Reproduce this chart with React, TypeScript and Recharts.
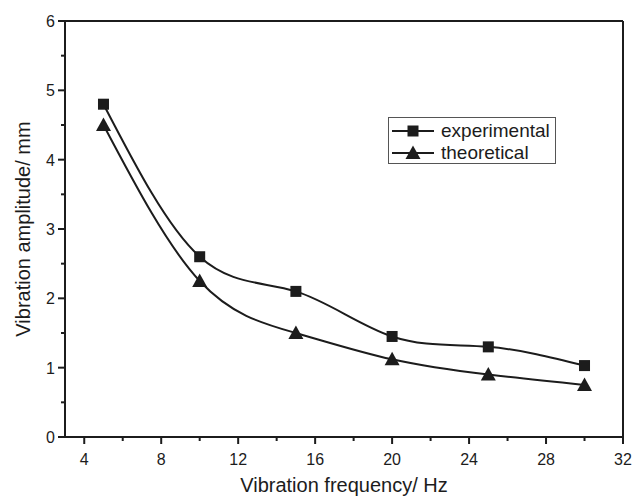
import { LineChart, Line, XAxis, YAxis, Legend, ReferenceLine } from "recharts"

// values
const frequencies = [5, 10, 15, 20, 25, 30]
const experimental = [4.8, 2.6, 2.1, 1.45, 1.3, 1.03]
const theoretical = [4.5, 2.25, 1.5, 1.12, 0.9, 0.75]

const xTicks = [4, 6, 8, 10, 12, 14, 16, 18, 20, 22, 24, 26, 28, 30, 32]
const yTicks = [0, 0.5, 1, 1.5, 2, 2.5, 3, 3.5, 4, 4.5, 5, 5.5, 6]

const INK = "#1c1c1c"
const FONT = "'Liberation Sans', Arial, sans-serif"

const data = frequencies.map((f, i) => ({
  f,
  experimental: experimental[i],
  theoretical: theoretical[i],
}))

function XTick(props: any) {
  const { x, y, payload } = props
  const major = payload.value % 4 === 0
  return (
    <g>
      <line x1={x} x2={x} y1={y} y2={y + (major ? 7 : 4)} stroke={INK} strokeWidth={2} />
      {major && (
        <text x={x} y={y + 28} textAnchor="middle" fontSize={16} fill={INK} fontFamily={FONT}>
          {payload.value}
        </text>
      )}
    </g>
  )
}

function YTick(props: any) {
  const { x, y, payload } = props
  const major = Number.isInteger(payload.value)
  return (
    <g>
      <line x1={x - (major ? 7 : 4)} x2={x} y1={y} y2={y} stroke={INK} strokeWidth={2} />
      {major && (
        <text x={x - 10} y={y + 6} textAnchor="end" fontSize={16} fill={INK} fontFamily={FONT}>
          {payload.value}
        </text>
      )}
    </g>
  )
}

function SquareDot(props: any) {
  const { cx, cy } = props
  if (cx == null || cy == null) return null
  return <rect x={cx - 5.5} y={cy - 5.5} width={11} height={11} fill={INK} />
}

function TriangleDot(props: any) {
  const { cx, cy } = props
  if (cx == null || cy == null) return null
  return <polygon points={`${cx},${cy - 7.5} ${cx - 7.5},${cy + 6} ${cx + 7.5},${cy + 6}`} fill={INK} />
}

function LegendBox() {
  return (
    <svg width={168} height={48} style={{ display: "block" }}>
      <rect x={0.5} y={0.5} width={167} height={46} fill="#fff" stroke="#555" strokeWidth={1} />
      <line x1={4} x2={46} y1={14} y2={14} stroke={INK} strokeWidth={2} />
      <rect x={19.5} y={8.5} width={11} height={11} fill={INK} />
      <text x={53} y={20} fontSize={19} fill={INK} fontFamily={FONT}>experimental</text>
      <line x1={4} x2={46} y1={36} y2={36} stroke={INK} strokeWidth={2} />
      <polygon points="25,28.5 17.5,42 32.5,42" fill={INK} />
      <text x={53} y={42} fontSize={19} fill={INK} fontFamily={FONT}>theoretical</text>
    </svg>
  )
}

export default function App() {
  return (
    <div style={{ position: "fixed", left: 0, top: 0, background: "#fff" }}>
      <LineChart width={634} height={498} data={data} margin={{ top: 21, right: 11, left: 0, bottom: 0 }}>
        <XAxis
          dataKey="f"
          type="number"
          domain={[3, 32]}
          ticks={xTicks}
          interval={0}
          height={61}
          tickSize={0}
          tickMargin={0}
          tickLine={false}
          tick={<XTick />}
          axisLine={{ stroke: INK, strokeWidth: 2 }}
          label={{
            value: "Vibration frequency/ Hz",
            position: "insideBottom",
            offset: 6,
            style: { fontSize: 20, fill: INK, fontFamily: FONT },
          }}
        />
        <YAxis
          type="number"
          domain={[0, 6]}
          ticks={yTicks}
          interval={0}
          width={65}
          tickSize={0}
          tickMargin={0}
          tickLine={false}
          tick={<YTick />}
          axisLine={{ stroke: INK, strokeWidth: 2 }}
          label={{
            value: "Vibration amplitude/ mm",
            angle: -90,
            position: "insideLeft",
            offset: 23,
            style: { fontSize: 20, fill: INK, fontFamily: FONT, textAnchor: "middle" },
          }}
        />
        {/* top and right frame */}
        <ReferenceLine y={6} stroke={INK} strokeWidth={2} />
        <ReferenceLine x={32} stroke={INK} strokeWidth={2} />
        <Legend
          layout="vertical"
          align="center"
          verticalAlign="middle"
          content={() => <LegendBox />}
          wrapperStyle={{ left: 388, top: 117, width: 168, height: 48 }}
        />
        <Line
          type="natural"
          dataKey="experimental"
          stroke={INK}
          strokeWidth={2}
          dot={<SquareDot />}
          activeDot={false}
          isAnimationActive={false}
        />
        <Line
          type="natural"
          dataKey="theoretical"
          stroke={INK}
          strokeWidth={2}
          dot={<TriangleDot />}
          activeDot={false}
          isAnimationActive={false}
        />
      </LineChart>
    </div>
  )
}
